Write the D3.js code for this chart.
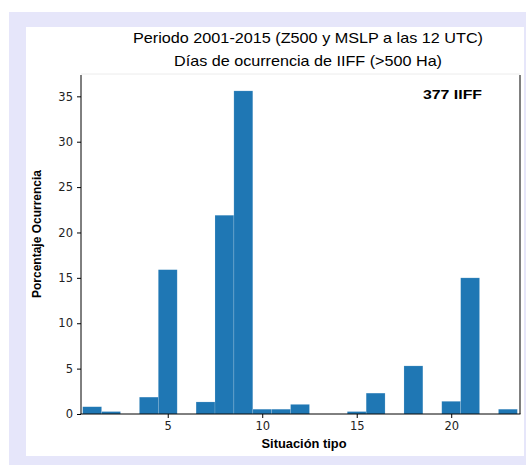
<!DOCTYPE html>
<html><head><meta charset="utf-8">
<script src="https://cdn.jsdelivr.net/npm/d3@7"></script>
<style>html,body{margin:0;padding:0;background:#fff;}svg{display:block;}</style>
</head><body>
<script>
const categories = d3.range(1, 24);
const values = [0.8, 0.27, 0, 1.86, 15.9, 0, 1.33, 21.9, 35.6, 0.53, 0.53, 1.06, 0, 0, 0.27, 2.3, 0, 5.3, 0, 1.4, 15.0, 0, 0.53];
const xTicks = [5, 10, 15, 20];
const yTicks = [0, 5, 10, 15, 20, 25, 30, 35];
const titleLines = ["Periodo 2001-2015 (Z500 y MSLP a las 12 UTC)", "Días de ocurrencia de IIFF (>500 Ha)"];
const annotation = "377 IIFF";
const xLabel = "Situación tipo";
const yLabel = "Porcentaje Ocurrencia";

const W = 526, H = 466;
const svg = d3.select("body").append("svg").attr("width", W).attr("height", H);

svg.append("rect").attr("x", 9).attr("y", 12).attr("width", W - 9).attr("height", 453).attr("fill", "#e6e6fa");
svg.append("rect").attr("x", 26).attr("y", 27).attr("width", 498).attr("height", 429).attr("fill", "#ffffff");

const L = 81, R = 520, T = 75, B = 414;
const x = d3.scaleLinear().domain([0.41, 23.64]).range([L, R]);
const y = d3.scaleLinear().domain([0, 37.35]).range([B, T]);

// faint top line
svg.append("line").attr("x1", L).attr("x2", R).attr("y1", T - 1).attr("y2", T - 1)
  .attr("stroke", "#ececec").attr("stroke-width", 1);

// bars
const data = categories.map((c, i) => ({c, v: values[i]})).filter(d => d.v > 0);
svg.append("g").selectAll("rect").data(data).join("rect")
  .attr("x", d => x(d.c - 0.5))
  .attr("width", d => x(d.c + 0.5) - x(d.c - 0.5))
  .attr("y", d => y(d.v))
  .attr("height", d => y(0) - y(d.v))
  .attr("fill", "#1f77b4")
  .attr("stroke", "rgba(255,255,255,0.25)")
  .attr("stroke-width", 0.6);

// axes
const xAxis = d3.axisBottom(x).tickValues(xTicks).tickSize(4).tickPadding(4);
const yAxis = d3.axisLeft(y).tickValues(yTicks).tickSize(4).tickPadding(4);
const gx = svg.append("g").attr("transform", `translate(0,${B})`).call(xAxis);
const gy = svg.append("g").attr("transform", `translate(${L},0)`).call(yAxis);
[gx, gy].forEach(g => {
  g.select(".domain").remove();
  g.selectAll(".tick line").attr("stroke", "#000").attr("stroke-width", 1);
  g.selectAll(".tick text").attr("fill", "#222").style("font-family", "DejaVu Sans").style("font-size", "11.5px");
});

// spines
svg.append("line").attr("x1", L).attr("x2", L).attr("y1", T).attr("y2", B).attr("stroke", "#000");
svg.append("line").attr("x1", R).attr("x2", R).attr("y1", T).attr("y2", B).attr("stroke", "#000");
svg.append("line").attr("x1", L - 0.5).attr("x2", R + 0.5).attr("y1", B).attr("y2", B).attr("stroke", "#000");

// titles
svg.append("text").attr("x", 308).attr("y", 42.5).attr("text-anchor", "middle")
  .style("font-family", "Liberation Sans, Arial, sans-serif").style("font-size", "14.5px").attr("fill", "#000")
  .attr("textLength", 350).attr("lengthAdjust", "spacingAndGlyphs").text(titleLines[0]);
svg.append("text").attr("x", 308).attr("y", 65.5).attr("text-anchor", "middle")
  .style("font-family", "Liberation Sans, Arial, sans-serif").style("font-size", "14.5px").attr("fill", "#000")
  .attr("textLength", 268).attr("lengthAdjust", "spacingAndGlyphs").text(titleLines[1]);

// annotation
svg.append("text").attr("x", 423).attr("y", 98.5)
  .style("font-family", "Liberation Sans, Arial, sans-serif").style("font-size", "13px").style("font-weight", "bold")
  .attr("textLength", 59).attr("lengthAdjust", "spacingAndGlyphs").text(annotation);

// axis labels
svg.append("text").attr("x", 304).attr("y", 448).attr("text-anchor", "middle")
  .style("font-family", "Liberation Sans Narrow, Liberation Sans, Arial, sans-serif").style("font-size", "12px").style("font-weight", "bold")
  .attr("textLength", 85).attr("lengthAdjust", "spacingAndGlyphs").text(xLabel);
svg.append("text").attr("transform", "translate(40.5,234) rotate(-90)").attr("text-anchor", "middle")
  .style("font-family", "Liberation Sans Narrow, Liberation Sans, Arial, sans-serif").style("font-size", "12px").style("font-weight", "bold")
  .attr("textLength", 128).attr("lengthAdjust", "spacingAndGlyphs").text(yLabel);
</script>
</body></html>
